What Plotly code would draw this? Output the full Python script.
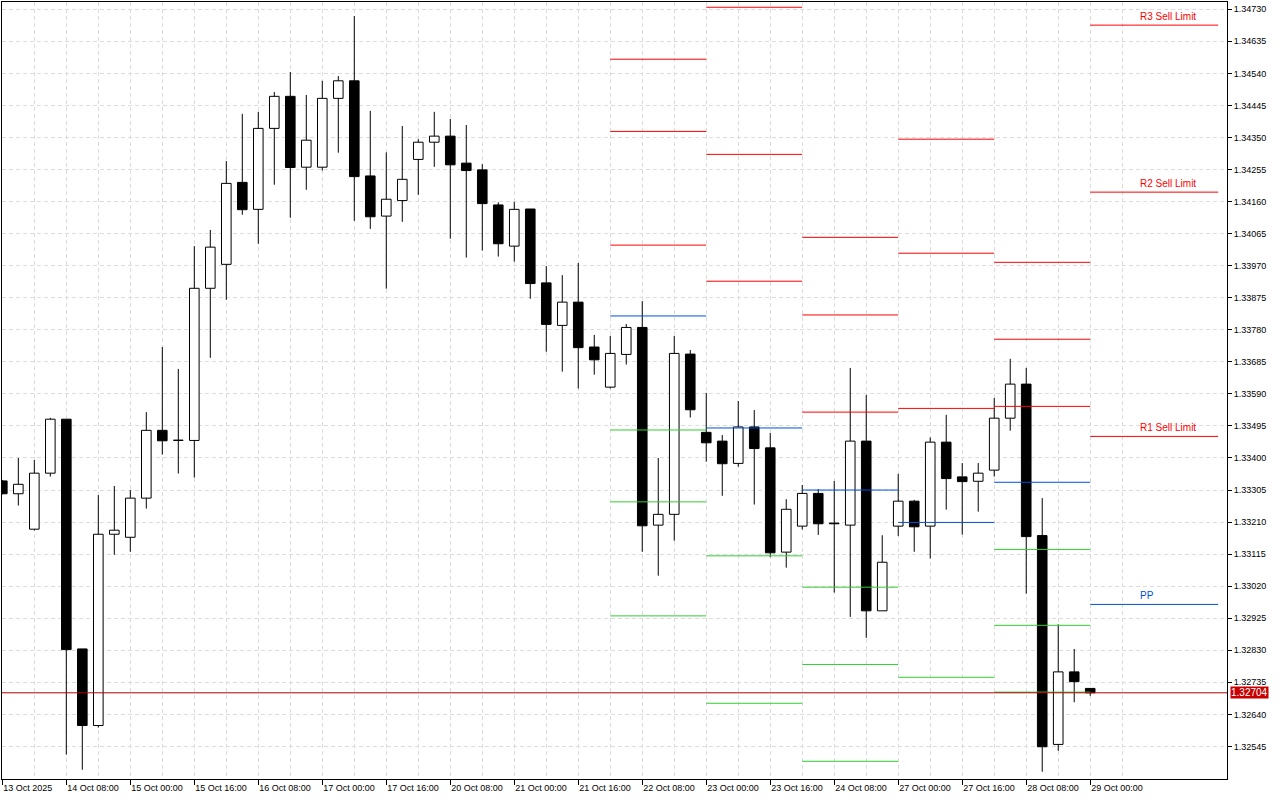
import plotly.graph_objects as go

# H4 candles, bar 0 = 13 Oct 16:00 ... bar 68 = 29 Oct 00:00
opens = [
    1.33332, 1.33294, 1.33189, 1.33355, 1.33515, 1.32834, 1.32607, 1.33174, 1.33165, 1.33281,
    1.33482, 1.33452, 1.33452, 1.33903, 1.33974, 1.34217, 1.34137, 1.34377, 1.34472, 1.34262,
    1.34262, 1.34466, 1.34518, 1.34236, 1.34117, 1.34163, 1.34285, 1.34336, 1.34354, 1.34274,
    1.34254, 1.34150, 1.34028, 1.34138, 1.33919, 1.33793, 1.33862, 1.33729, 1.33610, 1.33707,
    1.33787, 1.33201, 1.33233, 1.33708, 1.33476, 1.33450, 1.33384, 1.33492, 1.33430, 1.33121,
    1.33198, 1.33295, 1.33207, 1.33201, 1.33450, 1.32947, 1.33198, 1.33272, 1.33198, 1.33447,
    1.33344, 1.33331, 1.33364, 1.33518, 1.33619, 1.33170, 1.32551, 1.32766, 1.32717,
]
highs = [
    1.33335, 1.33400, 1.33394, 1.33519, 1.33515, 1.32834, 1.33290, 1.33317, 1.33305, 1.33536,
    1.33729, 1.33664, 1.34028, 1.34076, 1.34280, 1.34420, 1.34426, 1.34485, 1.34544, 1.34476,
    1.34518, 1.34532, 1.34710, 1.34429, 1.34306, 1.34384, 1.34345, 1.34426, 1.34405, 1.34387,
    1.34271, 1.34158, 1.34159, 1.34138, 1.33969, 1.33942, 1.33978, 1.33765, 1.33762, 1.33797,
    1.33865, 1.33400, 1.33762, 1.33720, 1.33593, 1.33468, 1.33569, 1.33542, 1.33474, 1.33278,
    1.33320, 1.33308, 1.33332, 1.33667, 1.33587, 1.33171, 1.33353, 1.33276, 1.33461, 1.33528,
    1.33385, 1.33385, 1.33578, 1.33694, 1.33667, 1.33281, 1.32907, 1.32834, 1.32717,
]
lows = [
    1.33292, 1.33259, 1.33185, 1.33345, 1.32521, 1.32476, 1.32601, 1.33113, 1.33122, 1.33250,
    1.33410, 1.33354, 1.33342, 1.33697, 1.33869, 1.34121, 1.34035, 1.34210, 1.34112, 1.34195,
    1.34252, 1.34305, 1.34103, 1.34079, 1.33902, 1.34100, 1.34180, 1.34263, 1.34050, 1.33994,
    1.34015, 1.33997, 1.33982, 1.33872, 1.33715, 1.33656, 1.33606, 1.33647, 1.33606, 1.33677,
    1.33122, 1.33051, 1.33155, 1.33520, 1.33389, 1.33288, 1.33374, 1.33262, 1.33106, 1.33075,
    1.33188, 1.33172, 1.33001, 1.32929, 1.32867, 1.32947, 1.33169, 1.33122, 1.33102, 1.33247,
    1.33173, 1.33241, 1.33345, 1.33481, 1.32998, 1.32470, 1.32532, 1.32676, 1.32695,
]
closes = [
    1.33294, 1.33322, 1.33355, 1.33515, 1.32832, 1.32607, 1.33174, 1.33186, 1.33281, 1.33482,
    1.33451, 1.33453, 1.33903, 1.34025, 1.34214, 1.34136, 1.34377, 1.34472, 1.34261, 1.34342,
    1.34466, 1.34518, 1.34234, 1.34115, 1.34167, 1.34226, 1.34336, 1.34354, 1.34269, 1.34252,
    1.34154, 1.34035, 1.34137, 1.33917, 1.33796, 1.33862, 1.33727, 1.33691, 1.33710, 1.33787,
    1.33199, 1.33233, 1.33710, 1.33543, 1.33445, 1.33383, 1.33492, 1.33428, 1.33119, 1.33248,
    1.33295, 1.33205, 1.33205, 1.33450, 1.32947, 1.33091, 1.33272, 1.33196, 1.33447, 1.33339,
    1.33330, 1.33355, 1.33518, 1.33619, 1.33167, 1.32544, 1.32766, 1.32737, 1.32704,
]

time_tick_pos = [0, 4, 8, 12, 16, 20, 24, 28, 32, 36, 40, 44, 48, 52, 56, 60, 64, 68]
time_tick_text = [
    "13 Oct 2025", "14 Oct 08:00", "15 Oct 00:00", "15 Oct 16:00", "16 Oct 08:00",
    "17 Oct 00:00", "17 Oct 16:00", "20 Oct 08:00", "21 Oct 00:00", "21 Oct 16:00",
    "22 Oct 08:00", "23 Oct 00:00", "23 Oct 16:00", "24 Oct 08:00", "27 Oct 00:00",
    "27 Oct 16:00", "28 Oct 08:00", "29 Oct 00:00",
]
price_ticks = [
    1.32545, 1.32640, 1.32735, 1.32830, 1.32925, 1.33020, 1.33115, 1.33210,
    1.33305, 1.33400, 1.33495, 1.33590, 1.33685, 1.33780, 1.33875, 1.33970,
    1.34065, 1.34160, 1.34255, 1.34350, 1.34445, 1.34540, 1.34635, 1.34730,
]

# daily pivot levels (segment from day start bar to next day start bar)
day_start = [38, 44, 50, 56, 62, 68]
day_end = [44, 50, 56, 62, 68, 76]
r3 = [1.34582, 1.34736, 1.34054, 1.34345, 1.33980, 1.34683]
r2 = [1.34368, 1.34300, 1.33824, 1.34007, 1.33752, 1.34188]
r1 = [1.34031, 1.33924, 1.33536, 1.33547, 1.33553, 1.33464]
pp = [1.33821, 1.33489, 1.33305, 1.33209, 1.33328, 1.32966]
s1 = [1.33483, 1.33110, 1.33017, 1.32750, 1.33129, None]
s2 = [1.33270, 1.32673, 1.32788, None, 1.32904, None]
s3 = [1.32932, None, 1.32501, None, 1.32706, None]

level_labels = ["R3 Sell Limit", "R2 Sell Limit", "R1 Sell Limit", "PP"]
bid = 1.32704

FONT = "Liberation Sans, Arial, sans-serif"

idx = list(range(len(opens)))
fig = go.Figure()

# wicks split above / below the body so they do not cross hollow bodies
wx, wy = [], []
for i in idx:
    top = max(opens[i], closes[i])
    bot = min(opens[i], closes[i])
    if highs[i] > top:
        wx += [i, i, None]
        wy += [top, highs[i], None]
    if lows[i] < bot:
        wx += [i, i, None]
        wy += [lows[i], bot, None]
fig.add_trace(go.Scatter(x=wx, y=wy, mode="lines", line=dict(color="black", width=1),
                         hoverinfo="skip", showlegend=False))

body_base = [min(o, c) for o, c in zip(opens, closes)]
body_len = [max(abs(c - o), 0.000002) for o, c in zip(opens, closes)]
body_fill = ["white" if c >= o else "black" for o, c in zip(opens, closes)]
fig.add_trace(go.Bar(x=idx, y=body_len, base=body_base, width=0.6,
                     marker=dict(color=body_fill, line=dict(color="black", width=1)),
                     hoverinfo="skip", showlegend=False))


def segments(levels):
    xs, ys = [], []
    for a, b, v in zip(day_start, day_end, levels):
        if v is None:
            continue
        xs += [a, b, None]
        ys += [v, v, None]
    return xs, ys


for levels, col in [(r3, "#ff0000"), (r2, "#ff0000"), (r1, "#ff0000"),
                    (pp, "#0050dc"), (s1, "#32cd32"), (s2, "#32cd32"), (s3, "#32cd32")]:
    xs, ys = segments(levels)
    fig.add_trace(go.Scatter(x=xs, y=ys, mode="lines", line=dict(color=col, width=1),
                             hoverinfo="skip", showlegend=False))

# labels of the current day's levels
for txt, val, col in zip(level_labels, [r3[-1], r2[-1], r1[-1], pp[-1]],
                         ["#ff0000", "#ff0000", "#ff0000", "#0050dc"]):
    fig.add_annotation(x=71, y=val, text=txt, showarrow=False, xanchor="left",
                       yanchor="bottom", yshift=1, font=dict(family=FONT, size=10, color=col))

# bid line and its price tag
fig.add_shape(type="line", xref="paper", x0=0, x1=1, y0=bid, y1=bid,
              line=dict(color="#b00000", width=1), layer="above")
fig.add_annotation(xref="paper", x=1, y=bid, text=f"{bid:.5f}", showarrow=False,
                   xanchor="left", xshift=3, bgcolor="#c80000", borderpad=0,
                   font=dict(family=FONT, size=10, color="white"))

grid = "#dcdcdc"
fig.update_layout(
    width=1280, height=800,
    margin=dict(l=2, r=53, t=2, b=21),
    plot_bgcolor="white", paper_bgcolor="white",
    showlegend=False,
    font=dict(family=FONT, size=9, color="black"),
    xaxis=dict(
        range=[-0.02, 76.55],
        tickmode="array", tickvals=time_tick_pos, ticktext=time_tick_text,
        ticks="outside", ticklen=5, tickcolor="black",
        ticklabelposition="outside right",
        showgrid=True, gridcolor=grid, griddash="4px,3px", gridwidth=1,
        minor=dict(tickmode="array", tickvals=[p + 2 for p in time_tick_pos],
                   showgrid=True, gridcolor=grid, griddash="4px,3px", ticks=""),
        showline=True, linecolor="black", linewidth=1, mirror=True,
        zeroline=False, automargin=False,
    ),
    yaxis=dict(
        side="right",
        range=[1.324485, 1.347516],
        tickmode="array", tickvals=price_ticks,
        ticktext=[f"{p:.5f}" for p in price_ticks],
        ticks="outside", ticklen=4, tickcolor="black",
        showgrid=True, gridcolor=grid, griddash="4px,3px", gridwidth=1,
        showline=True, linecolor="black", linewidth=1, mirror=True,
        zeroline=False, automargin=False,
    ),
)

# page body has a default 8px margin; drop it so the 1280x800 figure fills the window
fig.write_html("out.html", config={"displayModeBar": False},
               post_script="document.body.style.margin = '0px';")
